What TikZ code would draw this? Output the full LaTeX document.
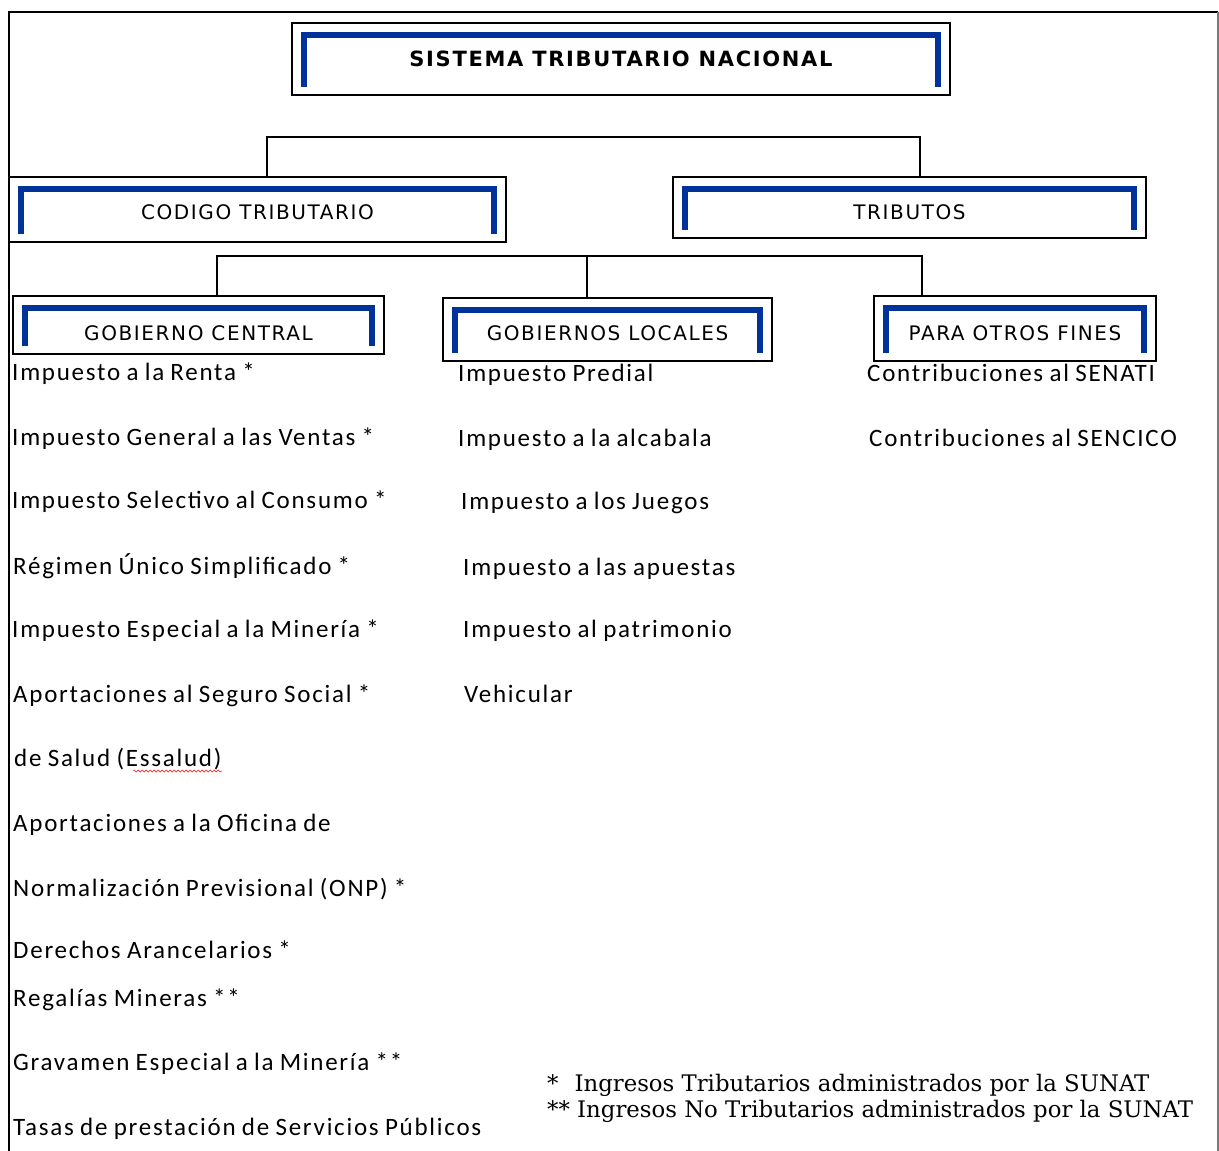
\documentclass[tikz,border=0pt]{standalone}
\usepackage{fontspec}
\usetikzlibrary{decorations.pathmorphing}
\newfontfamily\boxfont[LetterSpace=8]{DejaVu Sans}
\newfontfamily\listfont[LetterSpace=7,WordSpace=0.85]{Carlito}
\newfontfamily\notefont{DejaVu Serif}
\definecolor{bracketblue}{RGB}{0,51,153}
\definecolor{framegray}{RGB}{120,120,120}

% blue bracket drawn inside a level box
\newcommand{\innerbracket}[1]{%
  \draw[bracket] ([xshift=13pt,yshift=9pt]#1.south west) -- ([xshift=13pt,yshift=-13pt]#1.north west)
    -- ([xshift=-13pt,yshift=-13pt]#1.north east) -- ([xshift=-13pt,yshift=9pt]#1.south east);}

\tikzset{
  levelbox/.style={draw, line width=1.5pt, inner sep=0pt, text depth=0pt,
    font=\boxfont\fontsize{20}{24}\selectfont},
  bracket/.style={bracketblue, line width=6pt, line join=miter},
  link/.style={line width=1.5pt},
  item/.style={anchor=base west, inner sep=0pt, font=\listfont\fontsize{25}{30}\selectfont},
  note/.style={anchor=base west, inner sep=0pt, font=\notefont\fontsize{22.8}{27}\selectfont}
}

\begin{document}
\begin{tikzpicture}[x=1pt,y=-1pt]
\useasboundingbox (0,0) rectangle (1219,1151);

% outer frame (cut at the bottom)
\draw[line width=2pt] (9,1151) -- (9,12) -- (1218,12);
\draw[framegray, line width=1.5pt] (1218,12) -- (1218,1151);

% top level
\node[levelbox, minimum width=658pt, minimum height=72pt, text height=15pt,
  font=\boxfont\bfseries\fontsize{21}{25}\selectfont] (stn) at (621,59) {SISTEMA TRIBUTARIO NACIONAL};
\innerbracket{stn}

% second level
\node[levelbox, minimum width=497pt, minimum height=65pt, text height=20pt] (cod) at (257.5,209.5) {CODIGO TRIBUTARIO};
\node[levelbox, minimum width=473pt, minimum height=61pt, text height=24pt] (trib) at (909.5,207.5) {TRIBUTOS};
\innerbracket{cod}
\innerbracket{trib}

\coordinate (j1l) at (267,137);
\coordinate (j1r) at (920,137);
\draw[link] (cod.north -| j1l) -- (j1l) -- (j1r) -- (trib.north -| j1r);

% third level
\node[levelbox, minimum width=371pt, minimum height=58pt, text height=31pt] (gc) at (198.5,325) {GOBIERNO CENTRAL};
\node[levelbox, minimum width=329pt, minimum height=63pt, text height=22pt] (gl) at (607.5,329.5) {GOBIERNOS LOCALES};
\node[levelbox, minimum width=282pt, minimum height=65pt, text height=24pt] (pof) at (1015,328.5) {PARA OTROS FINES};
\innerbracket{gc}
\innerbracket{gl}
\innerbracket{pof}

\coordinate (j2l) at (217,256);
\coordinate (j2m) at (587,256);
\coordinate (j2r) at (922,256);
\draw[link] (gc.north -| j2l) -- (j2l) -- (j2r) -- (pof.north -| j2r);
\draw[link] (j2m) -- (gl.north -| j2m);

% gobierno central
\node[item] (gc1) at (12,380) {Impuesto a la Renta *};
\node[item] (gc2) at (12,445) {Impuesto General a las Ventas *};
\node[item] (gc3) at (12,508) {Impuesto Selectivo al Consumo *};
\node[item] (gc4) at (13,574) {Régimen Único Simplificado *};
\node[item] (gc5) at (12,637) {Impuesto Especial a la Minería *};
\node[item] (gc6) at (13,702) {Aportaciones al Seguro Social *};
\node[item] (gc7) at (14,766) {de Salud (Essalud)};
\node[item] (gc8) at (13,831) {Aportaciones a la Oficina de};
\node[item] (gc9) at (13,896) {Normalización Previsional (ONP) *};
\node[item] (gc10) at (13,958) {Derechos Arancelarios *};
\node[item] (gc11) at (13,1006) {Regalías Mineras **};
\node[item] (gc12) at (13,1070) {Gravamen Especial a la Minería **};
\node[item] (gc13) at (13,1135) {Tasas de prestación de Servicios Públicos};
\draw[red, decorate, decoration={snake, amplitude=1pt, segment length=4pt}] (133,771) -- (222,771);

% gobiernos locales
\node[item] (gl1) at (458,381) {Impuesto Predial};
\node[item] (gl2) at (458,446) {Impuesto a la alcabala};
\node[item] (gl3) at (461,509) {Impuesto a los Juegos};
\node[item] (gl4) at (463,575) {Impuesto a las apuestas};
\node[item] (gl5) at (463,637) {Impuesto al patrimonio};
\node[item] (gl6) at (464,702) {Vehicular};

% otros fines
\node[item] (pof1) at (867,381) {Contribuciones al SENATI};
\node[item] (pof2) at (869,446) {Contribuciones al SENCICO};

% notes
\node[note] (n1) at (547,1091) {*\hspace{16pt}Ingresos Tributarios administrados por la SUNAT};
\node[note] (n2) at (547,1117) {** Ingresos No Tributarios administrados por la SUNAT};
\end{tikzpicture}
\end{document}
